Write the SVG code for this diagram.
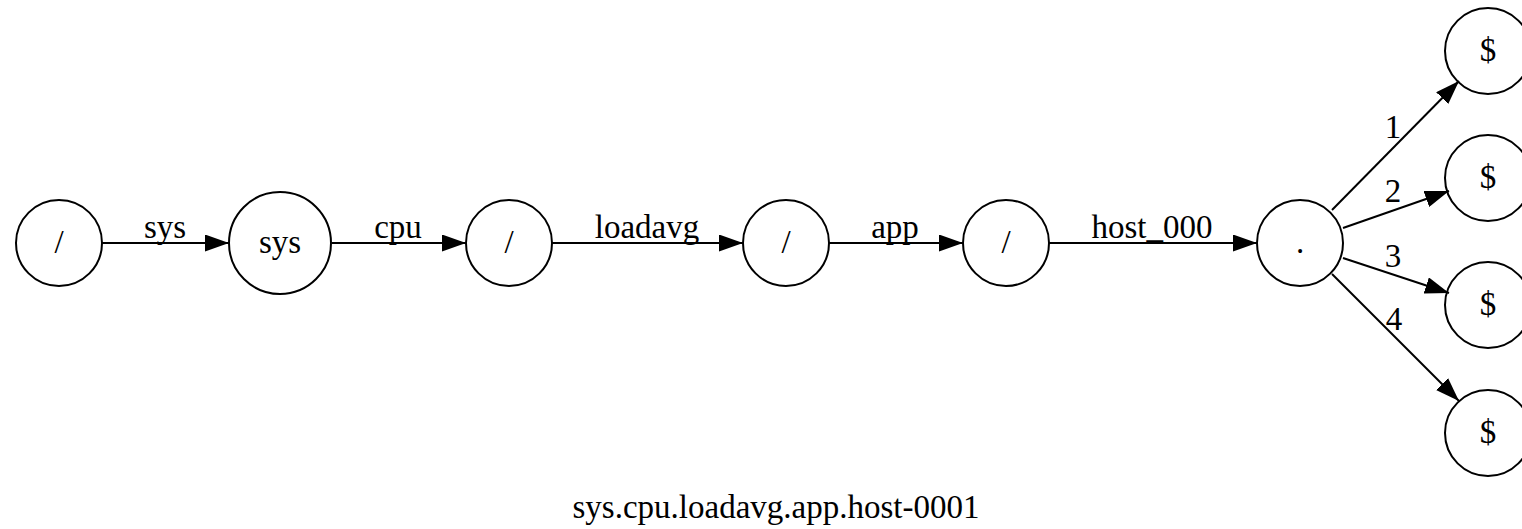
<svg xmlns="http://www.w3.org/2000/svg" width="1522" height="529" viewBox="0 0 1522 529">
<style>
.node circle{fill:none;stroke:#000;stroke-width:2}
text{font-family:"Liberation Serif","Times New Roman",serif;font-size:33px;fill:#000;text-anchor:middle}
.edges line{stroke:#000;stroke-width:2;marker-end:url(#arr)}
</style>
<defs>
<marker id="arr" markerUnits="userSpaceOnUse" viewBox="0 0 24 17" refX="24" refY="8.5" markerWidth="24" markerHeight="17" orient="auto">
<path d="M0,0 L24,8.5 L0,17 z" fill="#000"/>
</marker>
</defs>
<rect width="1522" height="529" fill="#fff"/>
<g class="edges">
<line x1="101" y1="243" x2="229" y2="243"/>
<line x1="332" y1="243" x2="466" y2="243"/>
<line x1="552" y1="243" x2="743" y2="243"/>
<line x1="829" y1="243" x2="963" y2="243"/>
<line x1="1049" y1="243" x2="1257" y2="243"/>
<line x1="1332" y1="210" x2="1459" y2="81"/>
<line x1="1343" y1="228" x2="1449" y2="191"/>
<line x1="1343" y1="258" x2="1449" y2="293"/>
<line x1="1332" y1="274" x2="1459" y2="401"/>
<text x="165" y="238">sys</text>
<text x="398" y="238">cpu</text>
<text x="647" y="238">loadavg</text>
<text x="895" y="238">app</text>
<text x="1152" y="238">host_000</text>
<text x="1393" y="138">1</text>
<text x="1393" y="202">2</text>
<text x="1393" y="267">3</text>
<text x="1394" y="330">4</text>
</g>
<g id="n0" class="node"><circle cx="59" cy="243" r="43"/><text x="59" y="253">/</text></g>
<g id="n1" class="node"><circle cx="280" cy="243" r="51"/><text x="280" y="253">sys</text></g>
<g id="n2" class="node"><circle cx="509" cy="243" r="43"/><text x="509" y="253">/</text></g>
<g id="n3" class="node"><circle cx="786" cy="243" r="43"/><text x="786" y="253">/</text></g>
<g id="n4" class="node"><circle cx="1006" cy="243" r="43"/><text x="1006" y="253">/</text></g>
<g id="n5" class="node"><circle cx="1300" cy="243" r="43"/><text x="1300" y="253">.</text></g>
<g id="n6" class="node"><circle cx="1488" cy="51" r="43"/><text x="1488" y="61">$</text></g>
<g id="n7" class="node"><circle cx="1488" cy="178" r="43"/><text x="1488" y="188">$</text></g>
<g id="n8" class="node"><circle cx="1488" cy="305" r="43"/><text x="1488" y="315">$</text></g>
<g id="n9" class="node"><circle cx="1488" cy="433" r="43"/><text x="1488" y="443">$</text></g>
<text id="title" x="776" y="518">sys.cpu.loadavg.app.host-0001</text>
</svg>
